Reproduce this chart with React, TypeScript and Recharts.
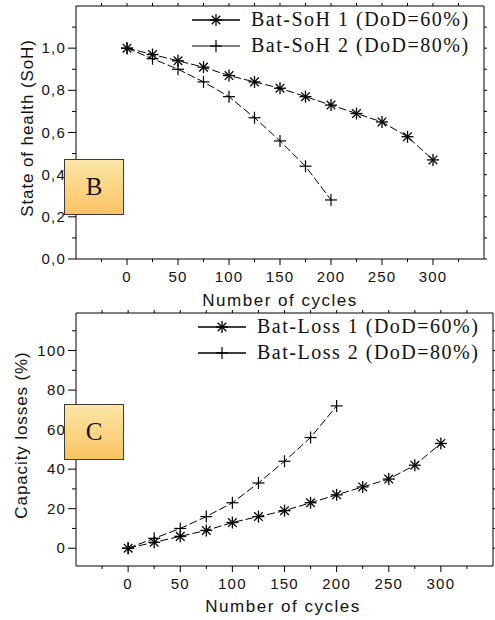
import React from "react";
import {
  LineChart, Line, XAxis, YAxis, Legend, Label
} from "recharts";

// cycles on the x axis
const cyclesA = [0, 25, 50, 75, 100, 125, 150, 175, 200, 225, 250, 275, 300];
const cyclesB = [0, 25, 50, 75, 100, 125, 150, 175, 200];

// state of health
const soh1 = [1.0, 0.97, 0.94, 0.91, 0.87, 0.84, 0.81, 0.77, 0.73, 0.69, 0.65, 0.58, 0.47];
const soh2 = [1.0, 0.95, 0.9, 0.84, 0.77, 0.67, 0.56, 0.44, 0.28];

// capacity losses (%)
const loss1 = [0, 3, 6, 9, 13, 16, 19, 23, 27, 31, 35, 42, 53];
const loss2 = [0, 5, 10, 16, 23, 33, 44, 56, 72];

// ticks
const xTicks = [-25, 0, 25, 50, 75, 100, 125, 150, 175, 200, 225, 250, 275, 300, 325];
const xLabels = [0, 50, 100, 150, 200, 250, 300];
const sohTicks = [0, 0.1, 0.2, 0.3, 0.4, 0.5, 0.6, 0.7, 0.8, 0.9, 1.0, 1.1];
const sohLabels = [0, 0.2, 0.4, 0.6, 0.8, 1.0];
const lossTicks = [0, 10, 20, 30, 40, 50, 60, 70, 80, 90, 100, 110];
const lossLabels = [0, 20, 40, 60, 80, 100];

const SANS = '"Liberation Sans", Arial, sans-serif';
const SERIF = '"Liberation Serif", "Times New Roman", serif';

const toPts = (xs: number[], ys: number[]) => xs.map((x, i) => ({ x, y: ys[i] }));

const Star = ({ cx, cy }: any) => {
  const r = 6;
  const d = r * 0.72;
  return (
    <g stroke="#000" strokeWidth={1.3}>
      <line x1={cx} y1={cy - r} x2={cx} y2={cy + r} />
      <line x1={cx - d} y1={cy - d} x2={cx + d} y2={cy + d} />
      <line x1={cx - d} y1={cy + d} x2={cx + d} y2={cy - d} />
      <line x1={cx - r} y1={cy} x2={cx + r} y2={cy} />
    </g>
  );
};

const Plus = ({ cx, cy }: any) => {
  const r = 6;
  return (
    <g stroke="#000" strokeWidth={1.2}>
      <line x1={cx} y1={cy - r} x2={cx} y2={cy + r} />
      <line x1={cx - r} y1={cy} x2={cx + r} y2={cy} />
    </g>
  );
};

const BottomTick = (props: any) => {
  const { x, y, payload } = props;
  const v = payload.value;
  const major = xLabels.includes(v);
  return (
    <g>
      <line x1={x} x2={x} y1={y} y2={y + (major ? 6 : 3)} stroke="#000" />
      {major && (
        <text x={x} y={y + 23} textAnchor="middle" fontFamily={SANS} fontSize={15}
          letterSpacing={1.2} fill="#111">{v}</text>
      )}
    </g>
  );
};

const TopTick = (props: any) => {
  const { x, y } = props;
  return <line x1={x} x2={x} y1={y} y2={y - 3} stroke="#000" />;
};

const RightTick = (props: any) => {
  const { x, y } = props;
  return <line x1={x} x2={x + 3} y1={y} y2={y} stroke="#000" />;
};

const makeLeftTick = (labels: number[], fmt: (v: number) => string) => (props: any) => {
  const { x, y, payload } = props;
  const v = payload.value;
  const major = labels.some((l) => Math.abs(l - v) < 1e-6);
  return (
    <g>
      <line x1={x} x2={x - (major ? 8 : 4)} y1={y} y2={y} stroke="#000" />
      {major && (
        <text x={x - 10} y={y + 5} textAnchor="end" fontFamily={SANS} fontSize={15}
          letterSpacing={1.2} fill="#111">{fmt(v)}</text>
      )}
    </g>
  );
};

const SohTick = makeLeftTick(sohLabels, (v) => v.toFixed(1).replace(".", ","));
const LossTick = makeLeftTick(lossLabels, (v) => String(v));

const LegendBox = ({ items }: { items: { name: string; marker: "star" | "plus"; color: string }[] }) => (
  <svg width={305} height={58}>
    {items.map((it, i) => {
      const cy = 14 + i * 26;
      return (
        <g key={it.name}>
          <line x1={4} x2={52} y1={cy} y2={cy} stroke={it.color} strokeWidth={1.3} />
          {it.marker === "star" ? <Star cx={28} cy={cy} /> : <Plus cx={28} cy={cy} />}
          <text x={63} y={cy + 6} fontFamily={SERIF} fontSize={20} letterSpacing={1.5} fill="#111">
            {it.name}
          </text>
        </g>
      );
    })}
  </svg>
);

const TagBox = ({ text, top }: { text: string; top: number }) => (
  <div
    style={{
      position: "absolute", left: 64, top, width: 58, height: 54,
      border: "1.5px solid #3a3a3a",
      background: "linear-gradient(to bottom, #fde6a8, #f8c462)",
      display: "flex", alignItems: "center", justifyContent: "center",
      fontFamily: SERIF, fontSize: 25, color: "#111",
    }}
  >
    {text}
  </div>
);

// top and right axes close the frame; a hidden copy of the first series binds them
const frameAxes = (domain: [number, number], ticks: number[], pts: { x: number; y: number }[]) => [
  <XAxis key="t" xAxisId="t" dataKey="x" orientation="top" type="number" domain={[-50, 350]}
    ticks={xTicks} interval={0} tickSize={0} tickMargin={0} height={1} tick={<TopTick />}
    axisLine={{ stroke: "#000" }} allowDataOverflow />,
  <YAxis key="r" yAxisId="r" orientation="right" type="number" domain={domain}
    ticks={ticks} interval={0} tickSize={0} tickMargin={0} width={1} tick={<RightTick />}
    axisLine={{ stroke: "#000" }} allowDataOverflow />,
  <Line key="frame" xAxisId="t" yAxisId="r" data={pts} dataKey="y" stroke="none"
    dot={false} activeDot={false} legendType="none" isAnimationActive={false} />,
];

export default function App() {
  return (
    <div style={{ position: "absolute", left: 0, top: 0, width: 495, height: 620, background: "#fff" }}>
      {/* B: state of health */}
      <div style={{ position: "absolute", left: 0, top: 0 }}>
        <LineChart width={495} height={310} margin={{ top: 5, right: 10, left: 36, bottom: 0 }}>
          <XAxis dataKey="x" type="number" domain={[-50, 350]} ticks={xTicks} interval={0}
            tickSize={0} tickMargin={0} height={51} tick={<BottomTick />}
            axisLine={{ stroke: "#000" }} allowDataOverflow>
            <Label content={() => (
              <text x={280} y={306} textAnchor="middle" fontFamily={SANS} fontSize={17}
                letterSpacing={1.5} fill="#111">Number of cycles</text>
            )} />
          </XAxis>
          <YAxis type="number" domain={[0, 1.2]} ticks={sohTicks} interval={0} tickSize={0} tickMargin={0}
            width={40} tick={<SohTick />} axisLine={{ stroke: "#000" }} allowDataOverflow>
            <Label content={() => (
              <text x={33} y={128} transform="rotate(-90 33 128)" textAnchor="middle"
                fontFamily={SANS} fontSize={17} letterSpacing={0.9} fill="#111">State of health (SoH)</text>
            )} />
          </YAxis>
          {frameAxes([0, 1.2], sohTicks, toPts(cyclesA, soh1))}
          <Legend
            layout="horizontal" verticalAlign="middle" align="center"
            wrapperStyle={{ position: "absolute", left: 188, top: 6, width: 305, height: 58 }}
            content={() => (
              <LegendBox items={[
                { name: "Bat-SoH 1 (DoD=60%)", marker: "star", color: "#000" },
                { name: "Bat-SoH 2 (DoD=80%)", marker: "plus", color: "#555" },
              ]} />
            )}
          />
          <Line data={toPts(cyclesA, soh1)} dataKey="y" name="Bat-SoH 1 (DoD=60%)" stroke="#000"
            strokeWidth={1} strokeDasharray="8 3" dot={<Star />} activeDot={false}
            isAnimationActive={false} />
          <Line data={toPts(cyclesB, soh2)} dataKey="y" name="Bat-SoH 2 (DoD=80%)" stroke="#000"
            strokeWidth={1} strokeDasharray="8 3" dot={<Plus />} activeDot={false}
            isAnimationActive={false} />
        </LineChart>
        <TagBox text="B" top={159} />
      </div>

      {/* C: capacity losses */}
      <div style={{ position: "absolute", left: 0, top: 300 }}>
        <LineChart width={495} height={320} margin={{ top: 12, right: 1, left: 36, bottom: 0 }}>
          <XAxis dataKey="x" type="number" domain={[-50, 350]} ticks={xTicks} interval={0}
            tickSize={0} tickMargin={0} height={54} tick={<BottomTick />}
            axisLine={{ stroke: "#000" }} allowDataOverflow>
            <Label content={() => (
              <text x={283} y={312} textAnchor="middle" fontFamily={SANS} fontSize={17}
                letterSpacing={1.5} fill="#111">Number of cycles</text>
            )} />
          </XAxis>
          <YAxis type="number" domain={[-9, 119]} ticks={lossTicks} interval={0} tickSize={0} tickMargin={0}
            width={40} tick={<LossTick />} axisLine={{ stroke: "#000" }} allowDataOverflow>
            <Label content={() => (
              <text x={27} y={135} transform="rotate(-90 27 135)" textAnchor="middle"
                fontFamily={SANS} fontSize={17} letterSpacing={0.9} fill="#111">Capacity losses (%)</text>
            )} />
          </YAxis>
          {frameAxes([-9, 119], lossTicks, toPts(cyclesA, loss1))}
          <Legend
            layout="horizontal" verticalAlign="middle" align="center"
            wrapperStyle={{ position: "absolute", left: 194, top: 13, width: 305, height: 58 }}
            content={() => (
              <LegendBox items={[
                { name: "Bat-Loss 1 (DoD=60%)", marker: "star", color: "#000" },
                { name: "Bat-Loss 2 (DoD=80%)", marker: "plus", color: "#000" },
              ]} />
            )}
          />
          <Line data={toPts(cyclesA, loss1)} dataKey="y" name="Bat-Loss 1 (DoD=60%)" stroke="#000"
            strokeWidth={1} strokeDasharray="8 3" dot={<Star />} activeDot={false}
            isAnimationActive={false} />
          <Line data={toPts(cyclesB, loss2)} dataKey="y" name="Bat-Loss 2 (DoD=80%)" stroke="#000"
            strokeWidth={1} strokeDasharray="8 3" dot={<Plus />} activeDot={false}
            isAnimationActive={false} />
        </LineChart>
        <TagBox text="C" top={104} />
      </div>
    </div>
  );
}
